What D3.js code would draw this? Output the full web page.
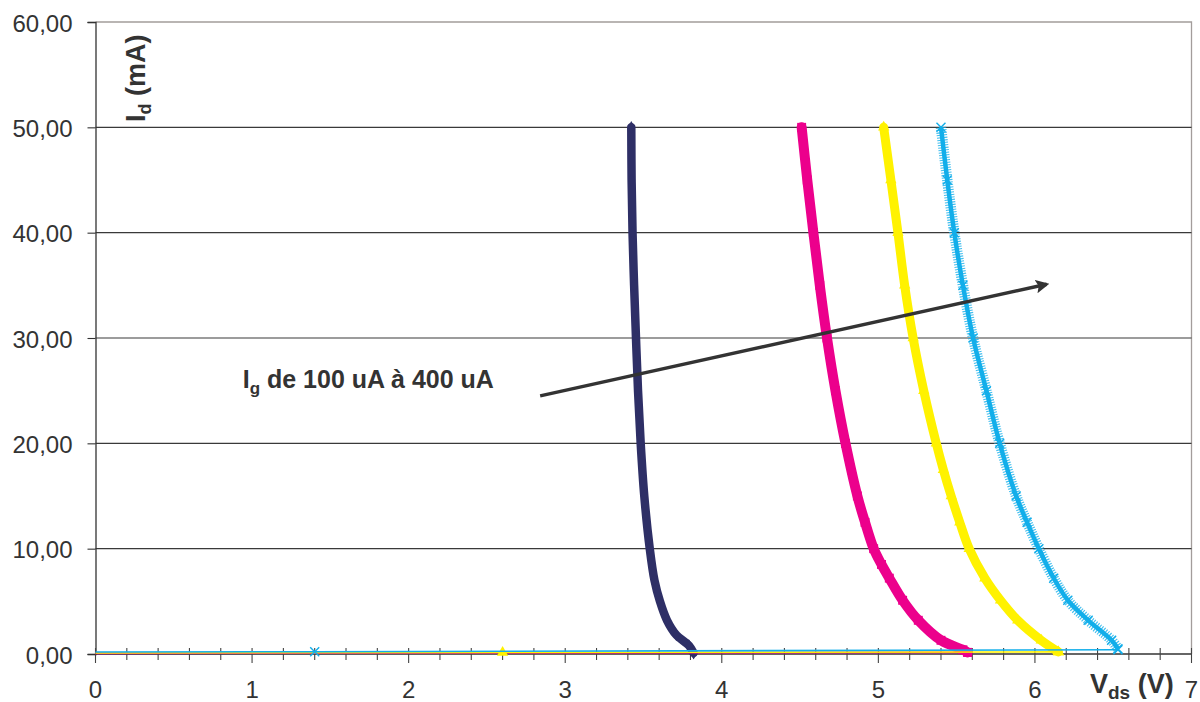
<!DOCTYPE html>
<html>
<head>
<meta charset="utf-8">
<script src="https://cdn.jsdelivr.net/npm/d3@7/dist/d3.min.js"></script>
<style>
  body { margin: 0; background: #fff; }
  svg { display: block; }
  text { font-family: "Liberation Sans", Arial, sans-serif; fill: #333; }
</style>
</head>
<body>
<svg id="chart" width="1200" height="702"></svg>
<script>
// Axis ticks and labels (Vds in V, Id in mA)
const vdsTickValues = [0, 1, 2, 3, 4, 5, 6, 7];
const vdsTickLabels = ["0", "1", "2", "3", "4", "5", "6", "7"];
const idTickValues = [0, 10, 20, 30, 40, 50, 60];
const idTickLabels = ["0,00", "10,00", "20,00", "30,00", "40,00", "50,00", "60,00"];

// Gate currents of the four sweeps
const gateCurrents = ["100 uA", "200 uA", "300 uA", "400 uA"];

// Off-state segments near Id = 0, [Vds, Id]
const ig100Base = [[0, 0.04], [3.82, 0.1]];
const ig200Base = [[0, 0.06], [5.57, 0.15]];
const ig300Base = [[0, 0.1], [2.6, 0.14], [6.15, 0.2]];
const ig400Base = [[0, 0.19], [1.4, 0.22], [6.53, 0.4]];

// Conduction branches, [Vds, Id]
const ig100Sweep = [[3.82, 0.1], [3.79, 0.8], [3.71, 1.8], [3.65, 3.2], [3.605, 5.0], [3.57, 7.0],
  [3.54, 10], [3.505, 15], [3.482, 20], [3.465, 25], [3.452, 30], [3.44, 35],
  [3.43, 40], [3.424, 45], [3.422, 50]];
const ig200Sweep = [[5.57, 0.15], [5.54, 0.4], [5.40, 1.3], [5.255, 3.2], [5.155, 5.1], [5.07, 7.2],
  [5.02, 8.5], [4.97, 10], [4.915, 12.5], [4.866, 15], [4.79, 20], [4.726, 25], [4.672, 30],
  [4.626, 35], [4.585, 40], [4.546, 45], [4.51, 50]];
const ig300Sweep = [[6.15, 0.2], [6.04, 1.3], [5.89, 3.2], [5.78, 5.1], [5.68, 7.2],
  [5.58, 10], [5.52, 12.5], [5.465, 15], [5.415, 17.5], [5.37, 20], [5.29, 25],
  [5.222, 30], [5.168, 35], [5.125, 40], [5.08, 45], [5.034, 50]];
const ig400Sweep = [[6.53, 0.5], [6.49, 1.3], [6.34, 3.2], [6.21, 5.1], [6.12, 7.2],
  [6.025, 10], [5.95, 12.5], [5.88, 15], [5.775, 20], [5.69, 25], [5.605, 30],
  [5.54, 35], [5.485, 40], [5.44, 45], [5.40, 50]];

// Arrow showing increasing gate current, [Vds, Id]
const arrowFrom = [2.84, 24.5];
const arrowTo = [6.075, 35.1];
const arrowLabelAt = [0.94, 25.3];

const svg = d3.select("#chart");
const x = d3.scaleLinear().domain([0, 7]).range([95.5, 1191.5]);
const y = d3.scaleLinear().domain([0, 60]).range([654, 22]);

// Plot-area frame (top and right)
svg.append("path")
  .attr("d", `M${x(0)},${y(60)}H${x(7)}V${y(0)}`)
  .attr("fill", "none").attr("stroke", "#a39d9b").attr("stroke-width", 1.3);

// Horizontal gridlines
svg.append("g").selectAll("line")
  .data(idTickValues.filter(v => v > 0 && v < 60))
  .join("line")
  .attr("x1", x(0)).attr("x2", x(7))
  .attr("y1", d => y(d)).attr("y2", d => y(d))
  .attr("stroke", "#3a3a3a").attr("stroke-width", 1.1);

// Y axis
const yAxis = svg.append("g").attr("transform", `translate(${x(0)},0)`)
  .call(d3.axisLeft(y).tickValues(idTickValues).tickSize(8).tickFormat((d, i) => idTickLabels[i]));
yAxis.select(".domain").attr("stroke", "#333").attr("stroke-width", 1.3);
yAxis.selectAll(".tick line").attr("stroke", "#333").attr("stroke-width", 1.1);
yAxis.selectAll(".tick text").attr("x", -23).attr("dy", "0.38em")
  .style("font-size", "24px").style("font-family", "'Liberation Sans', Arial, sans-serif").attr("fill", "#333");

// X axis: crossing ticks every 0.2 V, labels on whole volts
const xg = svg.append("g");
xg.append("line").attr("x1", x(0)).attr("x2", x(7)).attr("y1", y(0)).attr("y2", y(0))
  .attr("stroke", "#333").attr("stroke-width", 1.3);
const minorTicks = d3.range(0, 36).map(i => i / 5);
xg.selectAll("line.t").data(minorTicks).join("line").attr("class", "t")
  .attr("x1", d => x(d)).attr("x2", d => x(d))
  .attr("y1", y(0) - 6)
  .attr("y2", d => Math.abs(d - Math.round(d)) < 1e-6 ? y(0) + 9 : y(0) + 6)
  .attr("stroke", "#444").attr("stroke-width", 1.1);
xg.selectAll("text").data(vdsTickValues).join("text")
  .attr("x", d => x(d)).attr("y", 698)
  .attr("text-anchor", "middle").style("font-size", "24px")
  .text((d, i) => vdsTickLabels[i]);

// Series drawing
const line = d3.line().x(d => x(d[0])).y(d => y(d[1]));
const bandLine = d3.line().x(d => x(d[0])).y(d => y(d[1])).curve(d3.curveCatmullRom.alpha(0.5));

const crossPath = s => `M${-s},${-s}L${s},${s}M${-s},${s}L${s},${-s}`;

const series = [
  { name: gateCurrents[0], base: ig100Base, sweep: ig100Sweep, color: "#2e2f66", width: 8.5,
    marker: d3.symbol(d3.symbolDiamond, 45)() },
  { name: gateCurrents[1], base: ig200Base, sweep: ig200Sweep, color: "#ec008c", width: 10,
    marker: d3.symbol(d3.symbolSquare, 80)() },
  { name: gateCurrents[2], base: ig300Base, sweep: ig300Sweep, color: "#fff200", width: 9,
    marker: d3.symbol(d3.symbolTriangle, 55)() },
  { name: gateCurrents[3], base: ig400Base, sweep: ig400Sweep, color: "#12aeea", width: 4,
    marker: crossPath(4.5), cross: true }
];

series.forEach(s => {
  const g = svg.append("g").attr("class", "series");
  g.append("path").attr("d", line(s.base))
    .attr("fill", "none").attr("stroke", s.color).attr("stroke-width", 1.6);
  if (s.cross) {
    // hatch of short crossing strokes along the branch
    g.append("path").attr("d", bandLine(s.sweep))
      .attr("fill", "none").attr("stroke", s.color).attr("stroke-width", 10.5)
      .attr("stroke-dasharray", "1.1 1.4").attr("opacity", 0.8);
    g.append("path").attr("d", bandLine(s.sweep))
      .attr("fill", "none").attr("stroke", s.color).attr("stroke-width", 4.5);
  } else {
    g.append("path").attr("d", bandLine(s.sweep))
      .attr("fill", "none").attr("stroke", s.color).attr("stroke-width", s.width)
      .attr("stroke-linejoin", "round").attr("stroke-linecap", "round");
  }
  const pts = s.base.filter(d => d[0] > 0).concat(s.sweep);
  g.selectAll("path.m").data(pts).join("path").attr("class", "m")
    .attr("transform", d => `translate(${x(d[0])},${y(d[1])})`)
    .attr("d", s.marker)
    .attr("fill", s.cross ? "none" : s.color)
    .attr("stroke", s.color).attr("stroke-width", s.cross ? 1.4 : 0);
});

// Arrow
const defs = svg.append("defs");
defs.append("marker").attr("id", "arrowhead")
  .attr("viewBox", "0 0 10 10").attr("refX", 8).attr("refY", 5)
  .attr("markerWidth", 4).attr("markerHeight", 4).attr("orient", "auto")
  .append("path").attr("d", "M0,0L10,5L0,10L2,5Z").attr("fill", "#333");
svg.append("line")
  .attr("x1", x(arrowFrom[0])).attr("y1", y(arrowFrom[1]))
  .attr("x2", x(arrowTo[0])).attr("y2", y(arrowTo[1]))
  .attr("stroke", "#333").attr("stroke-width", 3.4)
  .attr("marker-end", "url(#arrowhead)");

const ann = svg.append("text")
  .attr("x", x(arrowLabelAt[0])).attr("y", y(arrowLabelAt[1]))
  .style("font-size", "25px").style("font-weight", "bold");
ann.append("tspan").text("I");
ann.append("tspan").attr("dy", 6).style("font-size", "17px").text("g");
ann.append("tspan").attr("dy", -6).text(" de 100 uA à 400 uA");

// Axis titles
const yTitle = svg.append("text")
  .attr("transform", "translate(145,122) rotate(-90)")
  .style("font-size", "27px").style("font-weight", "bold");
yTitle.append("tspan").text("I");
yTitle.append("tspan").attr("dy", 6).style("font-size", "18px").text("d");
yTitle.append("tspan").attr("dy", -6).text(" (mA)");

const xTitle = svg.append("text")
  .attr("x", 1090).attr("y", 693)
  .style("font-size", "27px").style("font-weight", "bold");
xTitle.append("tspan").text("V");
xTitle.append("tspan").attr("dy", 6).style("font-size", "19px").text("ds");
xTitle.append("tspan").attr("dy", -6).text(" (V)");
</script>
</body>
</html>
